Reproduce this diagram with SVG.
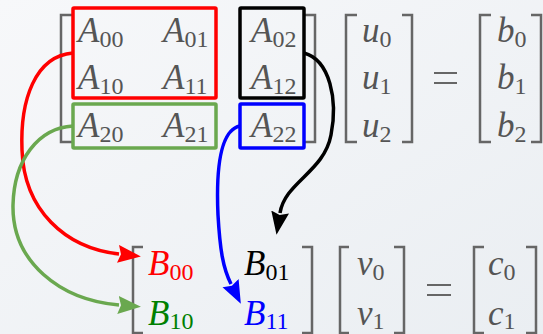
<svg xmlns="http://www.w3.org/2000/svg" width="543" height="334" viewBox="0 0 543 334">
<defs>
<linearGradient id="bg" x1="0" y1="0" x2="1" y2="1">
<stop offset="0" stop-color="#f7f8fa"/>
<stop offset="1" stop-color="#eaeef2"/>
</linearGradient>
<marker id="ar" markerUnits="userSpaceOnUse" markerWidth="26" markerHeight="20" refX="1" refY="9" orient="auto"><path d="M0,0 L23,9 L0,18 L3,9 Z" fill="#ff0000"/></marker>
<marker id="ag" markerUnits="userSpaceOnUse" markerWidth="26" markerHeight="20" refX="1" refY="9" orient="auto"><path d="M0,0 L23,9 L0,18 L3,9 Z" fill="#6aa84f"/></marker>
<marker id="ak" markerUnits="userSpaceOnUse" markerWidth="26" markerHeight="20" refX="1" refY="9" orient="auto"><path d="M0,0 L23,9 L0,18 L3,9 Z" fill="#000"/></marker>
<marker id="ab" markerUnits="userSpaceOnUse" markerWidth="26" markerHeight="20" refX="1" refY="9" orient="auto"><path d="M0,0 L23,9 L0,18 L3,9 Z" fill="#0000ff"/></marker>
</defs>
<style>
.m{font-family:"Liberation Serif",serif;font-style:italic;font-size:35px;fill:#555}
.s{font-style:normal;font-size:24px}
.br{fill:none;stroke:#666;stroke-width:2.5}
.box{fill:none;stroke-width:3.5}
.c{fill:none;stroke-width:3.5}
</style>
<rect width="543" height="334" fill="url(#bg)"/>

<g id="matrixA">
<path class="br" d="M72,15 H61 V142 H72 M305,15 H315 V142 H305"/>
<text class="m" x="78" y="42">A<tspan class="s" dy="5">00</tspan></text>
<text class="m" x="163" y="42">A<tspan class="s" dy="5">01</tspan></text>
<text class="m" x="251" y="42">A<tspan class="s" dy="5">02</tspan></text>
<text class="m" x="78" y="89">A<tspan class="s" dy="5">10</tspan></text>
<text class="m" x="163" y="89">A<tspan class="s" dy="5">11</tspan></text>
<text class="m" x="251" y="89">A<tspan class="s" dy="5">12</tspan></text>
<text class="m" x="78" y="137">A<tspan class="s" dy="5">20</tspan></text>
<text class="m" x="163" y="137">A<tspan class="s" dy="5">21</tspan></text>
<text class="m" x="251" y="137">A<tspan class="s" dy="5">22</tspan></text>
</g>
<g id="boxRed"><rect class="box" x="73" y="8" width="143" height="90" rx="1" stroke="#ff0000"/></g>
<g id="boxGreen"><rect class="box" x="73" y="104" width="143" height="44" rx="1" stroke="#6aa84f"/></g>
<g id="boxBlack"><rect class="box" x="240" y="8" width="64" height="90" rx="1" stroke="#000"/></g>
<g id="boxBlue"><rect class="box" x="240" y="104" width="64" height="44" rx="1" stroke="#0000ff"/></g>

<g id="vecU">
<path class="br" d="M357,15 H346 V142 H357 M402,15 H412 V142 H402"/>
<text class="m" x="362" y="42">u<tspan class="s" dy="5">0</tspan></text>
<text class="m" x="362" y="89">u<tspan class="s" dy="5">1</tspan></text>
<text class="m" x="362" y="137">u<tspan class="s" dy="5">2</tspan></text>
</g>
<g id="eq1"><path d="M434,73 H457 M434,83 H457" stroke="#666" stroke-width="2"/></g>
<g id="vecB">
<path class="br" d="M491,15 H480 V142 H491 M531,15 H541 V142 H531"/>
<text class="m" x="497" y="42">b<tspan class="s" dy="5">0</tspan></text>
<text class="m" x="497" y="89">b<tspan class="s" dy="5">1</tspan></text>
<text class="m" x="497" y="137">b<tspan class="s" dy="5">2</tspan></text>
</g>

<g id="matrixB">
<path class="br" d="M143,247 H133 V333 H143 M302,247 H312 V333 H302"/>
<text class="m" x="148" y="275" style="fill:#ff0000">B<tspan class="s" dy="5">00</tspan></text>
<text class="m" x="244" y="275" style="fill:#000">B<tspan class="s" dy="5">01</tspan></text>
<text class="m" x="148" y="325" style="fill:#008000">B<tspan class="s" dy="4">10</tspan></text>
<text class="m" x="244" y="325" style="fill:#0000ff">B<tspan class="s" dy="4">11</tspan></text>
</g>
<g id="vecV">
<path class="br" d="M349,247 H340 V333 H349 M394,247 H404 V333 H394"/>
<text class="m" x="357" y="275">v<tspan class="s" dy="5">0</tspan></text>
<text class="m" x="357" y="325">v<tspan class="s" dy="4">1</tspan></text>
</g>
<g id="eq2"><path d="M427,285 H451 M427,295 H451" stroke="#666" stroke-width="2"/></g>
<g id="vecC">
<path class="br" d="M484,247 H474 V333 H484 M526,247 H536 V333 H526"/>
<text class="m" x="488" y="275">c<tspan class="s" dy="5">0</tspan></text>
<text class="m" x="488" y="325">c<tspan class="s" dy="4">1</tspan></text>
</g>

<g id="connectors">
<path class="c" stroke="#ff0000" marker-end="url(#ar)" d="M73,53 C35,56 20,100 22,150 C24,210 65,248 119,254"/>
<path class="c" stroke="#6aa84f" marker-end="url(#ag)" d="M73,126 C38,128 14,160 13,205 C12,262 60,300 119,305"/>
<path class="c" stroke="#000" marker-end="url(#ak)" d="M304,53 C330,60 338,100 331,135 C324,172 285,182 280,213"/>
<path class="c" stroke="#0000ff" marker-end="url(#ab)" d="M240,126 C220,130 216,170 218,215 C220,250 223,268 231,284"/>
</g>
</svg>
